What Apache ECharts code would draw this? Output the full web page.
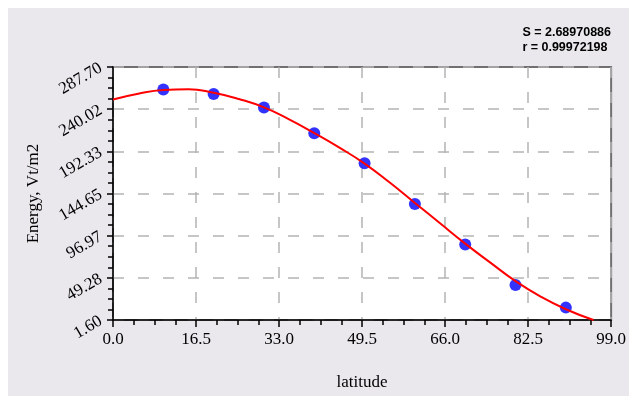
<!DOCTYPE html>
<html>
<head>
<meta charset="utf-8">
<script src="https://cdn.jsdelivr.net/npm/echarts@6/dist/echarts.min.js"></script>
<style>
  html, body { margin: 0; padding: 0; background: #ffffff; }
  #chart { width: 629px; height: 396px; }
</style>
</head>
<body>
<div id="chart"></div>
<script>
// Measured annual energy by latitude
const latitude = [10, 20, 30, 40, 50, 60, 70, 80, 90];
const energy = [262.3, 257.2, 241.8, 212.7, 178.9, 132.9, 86.9, 41.3, 15.6];

// Fitted curve
const fitLatitude = [0, 5, 10, 15, 20, 25, 30, 35, 40, 45, 50, 55, 60, 65, 70, 75, 80, 85, 90, 95.5];
const fitEnergy = [251.0, 257.5, 261.7, 262.6, 258.5, 251.5, 242.0, 228.5, 213.0, 196.5, 178.5, 157.0, 134.0, 111.0, 88.0, 66.5, 45.5, 28.0, 13.8, 1.6];

// Axis ranges
const xMin = 0, xMax = 99, xStep = 16.5;
const yMin = 1.6, yStep = 286.1 / 6, yMax = yMin + 6 * yStep;

// Fit statistics
const statLines = ['S = 2.68970886', 'r = 0.99972198'];

const serif = '"Liberation Serif", "Times New Roman", serif';
const sans = '"Liberation Sans", Arial, sans-serif';

const chart = echarts.init(document.getElementById('chart'));

const gridDash = { color: '#b4b4b4', width: 1.5, type: [11, 14] };

chart.setOption({
  animation: false,
  backgroundColor: '#ffffff',
  graphic: [
    {
      type: 'rect', z: -10, silent: true,
      shape: { x: 8, y: 8, width: 629, height: 396 },
      style: { fill: '#eae8ed' }
    },
    {
      type: 'text', right: 18, top: 25, z: 10,
      style: {
        text: statLines.join('\n'),
        font: 'bold 12.5px ' + sans,
        fill: '#000', align: 'right', lineHeight: 15
      }
    }
  ],
  grid: {
    left: 113, top: 67, width: 502, height: 259,
    show: true, backgroundColor: '#ffffff',
    borderColor: '#707070', borderWidth: 2
  },
  xAxis: {
    type: 'value', min: xMin, max: xMax, interval: xStep,
    name: 'latitude', nameLocation: 'middle', nameGap: 54,
    nameTextStyle: { fontFamily: serif, fontSize: 17, color: '#000' },
    axisLine: { show: true, onZero: false, lineStyle: { color: '#000', width: 1.5 } },
    axisTick: { show: true, length: 7, lineStyle: { color: '#000', width: 1.5 } },
    minorTick: { show: true, splitNumber: 4, length: 5, lineStyle: { color: '#000', width: 1.5 } },
    axisLabel: {
      fontFamily: serif, fontSize: 17, color: '#000', margin: 11,
      formatter: v => v.toFixed(1)
    },
    splitLine: { show: true, lineStyle: gridDash }
  },
  yAxis: {
    type: 'value', min: yMin, max: yMax, interval: yStep,
    name: 'Energy, Vt/m2', nameLocation: 'middle', nameGap: 71,
    nameTextStyle: { fontFamily: serif, fontSize: 17, color: '#000' },
    axisLine: { show: true, onZero: false, lineStyle: { color: '#000', width: 1.5 } },
    axisTick: { show: true, length: 6, lineStyle: { color: '#000', width: 1.5 } },
    minorTick: { show: true, splitNumber: 4, length: 5, lineStyle: { color: '#000', width: 1.5 } },
    axisLabel: {
      fontFamily: serif, fontSize: 17, color: '#000', margin: 12, rotate: 30,
      formatter: v => v.toFixed(2)
    },
    splitLine: { show: true, lineStyle: gridDash }
  },
  series: [
    {
      type: 'line', name: 'fit',
      data: fitLatitude.map((x, i) => [x, fitEnergy[i]]),
      smooth: 0.5, showSymbol: false, z: 3,
      lineStyle: { color: '#ff0000', width: 2 }
    },
    {
      type: 'scatter', name: 'data',
      data: latitude.map((x, i) => [x, energy[i]]),
      symbol: 'circle', symbolSize: 12, z: 2,
      itemStyle: { color: '#0000ff' }
    }
  ]
});
</script>
</body>
</html>
